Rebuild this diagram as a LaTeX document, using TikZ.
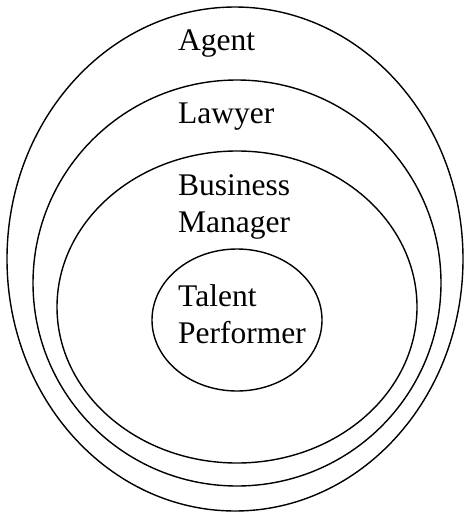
\documentclass[tikz,border=0pt]{standalone}
\usepackage{fontspec}
\setmainfont{Liberation Serif}
\usepackage{tikz}
\usetikzlibrary{shapes.geometric,positioning}

\begin{document}
\begin{tikzpicture}[
    x=1pt, y=-1pt,
    ring/.style={
        ellipse,
        draw,
        inner sep=0pt,
        line width=1.4pt
    },
    label/.style={
        anchor=base west,
        inner sep=0pt,
        align=left,
        font=\fontsize{31.5}{36.5}\selectfont
    }
]
    \useasboundingbox (0,0) rectangle (464,514);

    % Nested rings
    \node[ring, minimum width=456pt, minimum height=504pt] (agent) at (235,259) {};
    \node[ring, minimum width=408pt, minimum height=406pt] (lawyer) at (237,283) {};
    \node[ring, minimum width=360pt, minimum height=312pt] (manager) at (237,307) {};
    \node[ring, minimum width=170pt, minimum height=142pt] (talent) at (237,320) {};

    % Labels
    \node[label] (agentlbl) at (178,50) {Agent};
    \node[label] (lawyerlbl) at (178,123) {Lawyer};
    \node[label] (managerlbl) at (178,232) {Business\\Manager};
    \node[label] (talentlbl) at (178,343) {Talent\\Performer};
\end{tikzpicture}
\end{document}
